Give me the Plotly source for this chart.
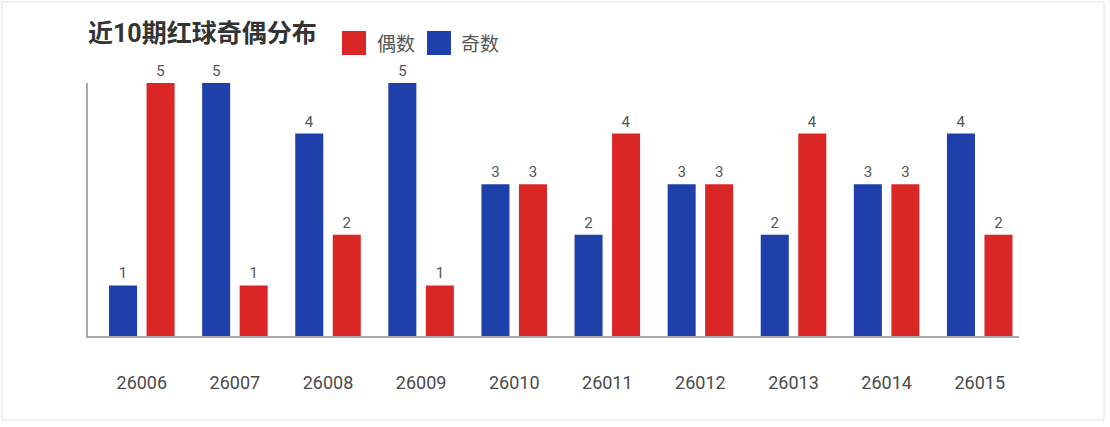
import plotly.graph_objects as go

# data
periods = ["26006", "26007", "26008", "26009", "26010",
           "26011", "26012", "26013", "26014", "26015"]
odd_counts = [1, 5, 4, 5, 3, 2, 3, 2, 3, 4]
even_counts = [5, 1, 2, 1, 3, 4, 3, 4, 3, 2]
legend_names = ["偶数", "奇数"]
title_text = "近10期红球奇偶分布"

RED = "#db2626"
BLUE = "#1f3fab"
FONT = "Roboto, 'Noto Sans CJK SC', sans-serif"

# plot area in pixels: x 88..1019, y 83..336
L, R, T, B = 88, 91, 83, 91
PW, PH = 1110 - L - R, 427 - T - B


def px_x(p):
    return (p - L) / PW


def px_y(p):
    return (427 - B - p) / PH


fig = go.Figure()

fig.add_trace(go.Bar(
    x=periods, y=odd_counts, name=legend_names[1],
    marker=dict(color=BLUE, line=dict(width=0)),
    text=odd_counts, textposition="outside",
    textfont=dict(size=15, color="#555"),
    cliponaxis=False, showlegend=False
))
fig.add_trace(go.Bar(
    x=periods, y=even_counts, name=legend_names[0],
    marker=dict(color=RED, line=dict(width=0)),
    text=even_counts, textposition="outside",
    textfont=dict(size=15, color="#555"),
    cliponaxis=False, showlegend=False
))

shapes = [
    # card border
    dict(type="rect", xref="paper", yref="paper",
         x0=px_x(2), x1=px_x(1104), y0=px_y(420), y1=px_y(2),
         line=dict(color="#e2e2e2", width=1), fillcolor="rgba(0,0,0,0)",
         layer="below"),
    # legend squares
    dict(type="rect", xref="paper", yref="paper",
         x0=px_x(342), x1=px_x(366), y0=px_y(55), y1=px_y(31),
         line=dict(width=0), fillcolor=RED),
    dict(type="rect", xref="paper", yref="paper",
         x0=px_x(427), x1=px_x(451), y0=px_y(55), y1=px_y(31),
         line=dict(width=0), fillcolor=BLUE),
]

annotations = [
    dict(text="<b>" + title_text + "</b>", xref="paper", yref="paper",
         x=px_x(86), y=px_y(33), xanchor="left", yanchor="middle",
         showarrow=False, font=dict(size=25, color="#333", family=FONT)),
    dict(text=legend_names[0], xref="paper", yref="paper",
         x=px_x(375), y=px_y(44), xanchor="left", yanchor="middle",
         showarrow=False, font=dict(size=19, color="#555", family=FONT)),
    dict(text=legend_names[1], xref="paper", yref="paper",
         x=px_x(459), y=px_y(44), xanchor="left", yanchor="middle",
         showarrow=False, font=dict(size=19, color="#555", family=FONT)),
]

fig.update_layout(
    width=1110, height=427,
    margin=dict(l=L, r=R, t=T, b=B),
    paper_bgcolor="white", plot_bgcolor="white",
    barmode="group", bargap=0.194, bargroupgap=0.253,
    font=dict(family=FONT, color="#444"),
    shapes=shapes, annotations=annotations,
    showlegend=False,
    xaxis=dict(
        range=[-0.578, 9.422],
        showline=True, linecolor="#aaa", linewidth=2,
        showgrid=False, ticks="", ticklabelstandoff=29,
        tickfont=dict(size=18, color="#4a4a4a"),
    ),
    yaxis=dict(
        range=[0, 5], showline=True, linecolor="#aaa", linewidth=2,
        showgrid=False, zeroline=False, showticklabels=False, ticks="",
    ),
)

fig.write_html("out.html", config={"displayModeBar": False},
               post_script="document.body.style.margin='0';")
